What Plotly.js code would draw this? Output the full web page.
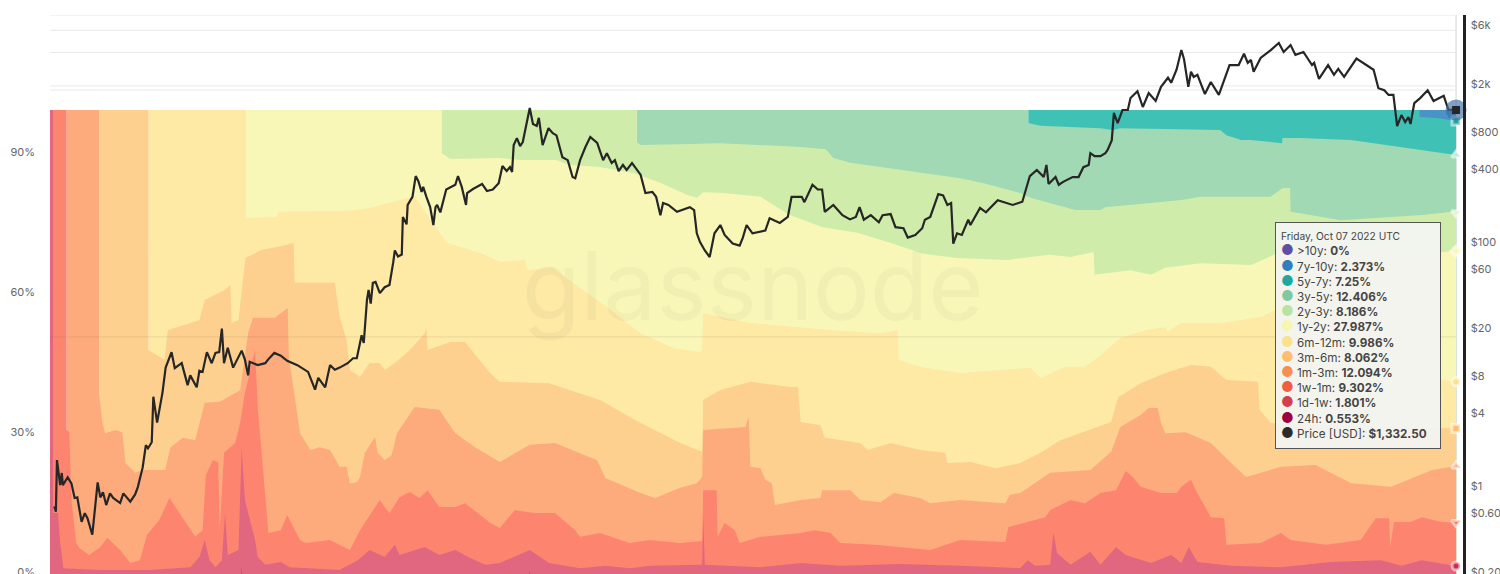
<!DOCTYPE html>
<html>
<head>
<meta charset="utf-8">
<script src="https://cdn.plot.ly/plotly-3.0.1.min.js"></script>
<style>html,body{margin:0;padding:0;background:#fff;width:1500px;height:574px;overflow:hidden}#chart{width:1500px;height:582px}</style>
</head>
<body>
<div id="chart"></div>
<script>
const endDate = '2022-10-07';
const bandNames = ['>10y','7y-10y','5y-7y','3y-5y','2y-3y','1y-2y','6m-12m','3m-6m','1m-3m','1w-1m','1d-1w','24h'];
const bandShares = ['0%','2.373%','7.25%','12.406%','8.186%','27.987%','9.986%','8.062%','12.094%','9.302%','1.801%','0.553%'];
const dotColors = ['#5e4fa2','#2f7fbc','#1fa8a0','#7fc8a4','#b9e3a0','#f6f6b0','#fde08e','#fdbf6f','#f98e52','#ee5f42','#d53e4f','#9e0142'];
const priceLabel = 'Price [USD]';
const priceText = '$1,332.50';
const percentTicks = [0,30,60,90];
const percentLabels = ['0%','30%','60%','90%'];
const priceTicks = [8000,6000,4000,2000,800,400,100,60,20,8,4,1,0.6,0.2];
const priceLabels = ['','$6k','','$2k','$800','$400','$100','$60','$20','$8','$4','$1','$0.60','$0.20'];
const gridLevels = [8000,6000,3950,2100,1940,18.4];

const d7y10y = ['2022-07-30','2022-10-07'];
const v7y10y = [100,100];
const d5y7y = ['2020-07-30','2022-07-30','2022-07-30','2022-09-01','2022-10-07'];
const v5y7y = [100,100,98.5,98.3,97.63];
const d3y5y = ['2018-07-30','2020-07-30','2020-07-30','2020-08-22','2020-12-12','2021-01-04','2021-01-18','2021-06-17','2021-07-24','2021-08-04','2021-09-01','2021-09-19','2021-10-26','2021-11-16','2021-11-17','2021-12-20','2022-03-25','2022-06-27','2022-10-07'];
const v3y5y = [100,100,97.2,96.6,96.1,95.7,96.1,95.9,95.7,94.6,93.6,93.6,93.1,92.9,94.0,94.0,93.6,92.1,90.37];
const d2y3y = ['2017-07-30','2018-07-30','2018-07-30','2018-08-06','2018-11-06','2019-01-01','2019-06-01','2019-07-18','2019-08-01','2019-09-02','2019-12-04','2020-03-25','2020-05-12','2020-07-15','2020-08-03','2020-09-09','2020-10-26','2020-12-12','2020-12-21','2021-03-16','2021-05-12','2021-06-17','2021-09-19','2021-10-26','2021-11-17','2021-12-01','2021-12-02','2021-12-20','2022-03-06','2022-05-20','2022-08-04','2022-09-30','2022-10-07'];
const v2y3y = [100,100,93.1,92.5,92.7,92.9,92.1,91.6,89.7,88.7,87.2,85.4,84.2,82.2,81.2,80.1,78.6,78.6,79.2,80.1,80.7,81.4,81.4,81.4,83.3,83.3,78.2,77.9,76.4,76.9,77.5,78.2,77.97];
const d1y2y = ['2016-07-30','2017-07-30','2017-07-30','2017-08-16','2017-11-16','2017-12-24','2018-03-01','2018-03-27','2018-05-22','2018-07-23','2018-09-12','2018-11-01','2018-11-19','2018-12-01','2019-01-07','2019-03-18','2019-04-18','2019-05-12','2019-07-12','2019-09-15','2019-11-16','2020-01-16','2020-03-19','2020-06-21','2020-09-09','2020-10-17','2020-11-29','2020-12-01','2021-02-06','2021-03-16','2021-04-12','2021-06-17','2021-09-19','2021-11-01','2022-03-25','2022-09-12','2022-10-07'];
const v1y2y = [100,100,90.8,89.5,89.7,89.3,89.3,88.2,87.8,86.5,84.4,81.8,81.2,82.4,82.2,81.4,79.2,77.5,74.9,73.7,71.5,69.2,68.3,67.9,69.0,68.5,69.6,64.7,65.7,64.7,66.2,67.2,66.8,69.0,70.0,69.6,69.78];
const d6m12m = ['2016-01-30','2016-07-30','2016-07-30','2016-08-06','2016-09-26','2016-09-28','2017-02-09','2017-03-18','2017-05-13','2017-06-10','2017-07-13','2017-08-10','2017-10-11','2017-11-16','2018-01-03','2018-01-06','2018-02-23','2018-03-08','2018-06-04','2018-08-06','2018-10-07','2018-11-25','2018-11-29','2018-12-01','2019-02-27','2019-07-25','2019-10-28','2019-11-29','2019-12-01','2020-01-10','2020-03-25','2020-08-03','2020-08-22','2020-10-07','2020-11-13','2020-12-12','2021-01-18','2021-03-06','2021-04-12','2021-04-16','2021-05-12','2021-07-24','2021-10-07','2021-11-04','2022-03-25','2022-06-27','2022-09-12','2022-10-07'];
const v6m12m = [100,100,77.1,76.9,77.1,78.2,78.4,79.0,80.7,81.6,75.8,71.5,69.4,67.5,67.9,65.7,66.4,65.1,57.8,52.2,49.0,48.2,48.6,56.5,54.4,52.9,52.2,52.9,46.5,45.0,43.7,44.8,42.6,45.0,45.0,47.5,51.2,52.9,53.5,52.5,54.4,54.4,55.7,57.2,50.7,45.4,42.2,41.80];
const d3m6m = ['2015-10-30','2016-01-30','2016-01-30','2016-02-29','2016-03-06','2016-05-04','2016-05-14','2016-06-21','2016-07-01','2016-07-03','2016-07-16','2016-07-29','2016-08-27','2016-09-28','2016-10-27','2016-10-29','2017-01-12','2017-01-21','2017-02-03','2017-02-09','2017-02-28','2017-03-18','2017-04-06','2017-04-15','2017-05-04','2017-06-01','2017-06-29','2017-07-02','2017-07-04','2017-08-16','2017-09-12','2017-10-29','2017-11-16','2018-02-16','2018-05-22','2018-08-06','2018-10-19','2018-11-19','2018-11-29','2018-12-01','2019-01-01','2019-02-27','2019-05-12','2019-05-27','2019-06-01','2019-07-08','2019-07-16','2019-09-20','2019-10-04','2019-11-16','2020-01-10','2020-02-26','2020-03-01','2020-04-13','2020-05-30','2020-07-15','2020-08-22','2020-09-28','2020-11-23','2021-01-01','2021-01-14','2021-02-25','2021-04-12','2021-05-30','2021-07-06','2021-08-04','2021-10-02','2021-10-05','2021-10-26','2022-03-25','2022-09-12','2022-10-07'];
const v3m6m = [100,100,48.6,46.5,52.9,55.0,59.3,61.5,62.5,54.4,55.0,68.3,70.0,70.7,71.5,63.0,63.0,55.7,50.7,44.3,42.8,45.8,45.8,44.3,45.8,48.6,52.2,53.5,48.6,50.3,50.3,43.7,41.8,41.5,37.9,33.0,28.7,27.2,26.8,37.9,40.0,41.8,40.7,40.7,33.2,32.5,29.8,28.7,27.2,28.7,27.2,26.6,24.4,24.6,23.3,24.4,26.6,29.3,31.5,33.2,38.5,41.5,43.7,45.4,45.0,42.2,41.8,35.8,33.0,32.5,31.9,31.81];
const d1m3m = ['2015-08-30','2015-10-30','2015-10-30','2015-11-05','2015-11-10','2015-11-29','2015-12-12','2015-12-18','2016-01-05','2016-01-23','2016-03-01','2016-03-11','2016-04-03','2016-04-26','2016-05-14','2016-06-11','2016-07-19','2016-08-03','2016-08-12','2016-09-22','2016-10-16','2016-10-18','2016-10-30','2016-11-08','2016-11-27','2016-12-15','2017-01-03','2017-01-21','2017-02-03','2017-02-09','2017-02-22','2017-02-28','2017-03-09','2017-03-28','2017-04-02','2017-04-15','2017-04-28','2017-05-08','2017-06-10','2017-07-26','2017-08-25','2017-10-01','2017-11-16','2018-01-11','2018-02-27','2018-04-15','2018-05-17','2018-06-01','2018-08-06','2018-09-02','2018-10-19','2018-11-19','2018-11-29','2018-12-01','2019-01-01','2019-02-18','2019-02-24','2019-02-27','2019-03-18','2019-03-27','2019-04-08','2019-04-14','2019-06-01','2019-07-08','2019-07-11','2019-09-02','2019-09-20','2019-10-28','2019-11-22','2020-01-10','2020-01-29','2020-03-25','2020-06-17','2020-06-26','2020-07-15','2020-09-09','2020-11-23','2021-01-01','2021-01-18','2021-02-25','2021-03-12','2021-03-29','2021-04-04','2021-04-12','2021-05-20','2021-07-06','2021-08-13','2021-09-10','2021-11-14','2022-01-18','2022-03-25','2022-06-08','2022-08-23','2022-10-07'];
const v1m3m = [100,100,39.0,33.0,30.8,31.5,31.0,24.4,22.3,22.9,22.9,27.8,29.8,29.3,37.3,37.5,40.0,52.2,55.5,55.5,57.6,47.1,37.9,30.8,27.2,27.8,27.2,23.6,23.6,20.1,20.3,21.4,26.6,30.0,26.6,25.0,26.1,30.8,36.4,35.8,30.8,27.8,24.6,28.3,28.7,26.6,25.0,21.2,18.0,16.9,19.1,20.1,21.4,31.5,31.7,32.1,34.3,23.6,23.3,20.8,20.1,15.4,16.5,16.9,18.6,18.6,16.5,16.0,18.0,16.9,15.8,16.5,15.8,17.6,18.0,22.3,22.9,26.8,32.1,34.7,36.2,36.2,33.0,30.8,31.0,28.7,24.4,21.4,23.6,24.0,20.1,19.3,22.9,23.75];
const d1w1m = ['2015-08-06','2015-08-30','2015-08-30','2015-09-04','2015-09-08','2015-09-17','2015-09-23','2015-10-11','2015-11-01','2015-11-14','2015-12-08','2015-12-27','2016-01-14','2016-01-27','2016-02-19','2016-03-09','2016-03-28','2016-04-26','2016-05-10','2016-05-16','2016-05-29','2016-06-08','2016-06-11','2016-06-19','2016-07-10','2016-07-19','2016-07-28','2016-08-16','2016-08-21','2016-09-01','2016-09-10','2016-10-03','2016-10-15','2016-11-08','2016-11-18','2017-01-03','2017-02-09','2017-02-28','2017-04-06','2017-04-15','2017-04-24','2017-05-13','2017-06-01','2017-06-19','2017-07-04','2017-07-26','2017-08-25','2017-09-12','2017-10-29','2017-11-16','2017-12-14','2018-01-20','2018-02-27','2018-04-06','2018-04-15','2018-05-22','2018-07-17','2018-08-24','2018-10-19','2018-11-29','2018-12-01','2018-12-26','2018-12-28','2019-01-10','2019-01-29','2019-02-07','2019-03-18','2019-06-01','2019-06-27','2019-07-27','2019-08-14','2019-10-19','2019-12-04','2020-01-29','2020-03-25','2020-06-08','2020-06-17','2020-06-23','2020-07-25','2020-08-31','2020-09-09','2020-10-17','2020-11-13','2020-12-12','2021-01-10','2021-01-28','2021-02-10','2021-02-25','2021-04-04','2021-05-03','2021-05-12','2021-05-30','2021-06-08','2021-07-06','2021-07-31','2021-08-04','2021-10-07','2021-11-14','2021-12-02','2022-02-06','2022-04-12','2022-05-10','2022-06-04','2022-06-06','2022-06-13','2022-07-14','2022-08-04','2022-09-10','2022-10-07'];
const v1w1m = [100,100,31.5,31.0,16.5,7.3,6.2,4.7,6.4,8.4,5.8,3.0,3.6,9.0,12.2,16.9,13.7,8.6,10.0,21.8,25.0,24.6,10.0,26.6,28.7,33.0,39.4,48.6,36.4,21.4,9.4,10.0,13.3,7.9,7.3,7.9,5.8,10.0,16.5,15.0,13.7,17.1,18.2,16.9,18.6,15.0,15.0,15.8,11.6,10.5,14.3,13.7,13.7,10.0,8.6,9.4,7.3,7.9,7.3,7.7,18.6,18.6,8.6,11.6,10.0,7.3,8.6,9.4,10.0,9.4,7.3,6.9,6.4,5.8,7.9,7.5,7.5,10.7,11.6,12.8,14.3,16.5,15.8,18.0,18.6,22.7,21.4,19.3,18.0,18.0,19.3,20.8,18.6,12.8,12.6,6.9,7.3,9.4,7.9,6.9,7.9,12.6,12.6,6.4,11.8,11.8,12.8,11.8,11.66];
const d1d1w = ['2015-07-30','2015-08-06','2015-08-06','2015-08-14','2015-08-18','2015-08-24','2015-11-01','2016-02-01','2016-04-17','2016-05-04','2016-05-14','2016-05-23','2016-06-03','2016-06-15','2016-06-21','2016-06-26','2016-07-16','2016-07-22','2016-07-28','2016-08-06','2016-08-16','2016-08-21','2016-09-04','2016-10-03','2016-10-20','2017-01-21','2017-02-24','2017-03-18','2017-04-15','2017-05-04','2017-05-13','2017-06-01','2017-06-29','2017-07-26','2017-08-25','2017-09-21','2017-10-20','2017-11-16','2018-01-11','2018-02-16','2018-04-15','2018-06-01','2018-07-17','2018-08-24','2018-11-29','2018-12-01','2018-12-04','2019-03-18','2019-06-01','2019-08-14','2019-12-04','2020-03-25','2020-07-15','2020-07-29','2020-08-12','2020-09-09','2020-09-15','2020-09-22','2020-10-17','2020-11-23','2020-12-12','2021-01-10','2021-01-28','2021-03-16','2021-04-23','2021-05-12','2021-05-26','2021-06-11','2021-08-13','2021-11-14','2022-02-15','2022-05-20','2022-06-27','2022-08-04','2022-10-07'];
const v1d1w = [100,100,13.7,13.7,7.3,1.9,1.5,1.5,2.1,4.3,7.9,3.6,2.1,3.6,13.7,4.7,5.8,27.8,16.5,12.2,7.9,4.3,2.6,3.2,2.1,1.5,3.6,5.8,4.3,6.9,4.7,5.4,6.4,4.7,5.8,4.1,2.6,3.0,5.8,3.0,1.9,2.4,1.9,2.4,2.6,12.8,2.6,2.1,3.0,2.4,2.8,2.4,1.9,3.6,2.4,2.6,9.6,5.1,2.6,5.4,2.6,6.4,4.7,3.0,4.7,3.0,6.4,3.2,2.4,2.1,3.2,3.6,2.4,3.6,2.354];
const d24h = ['2015-08-01','2016-07-21','2016-07-22','2016-07-23','2018-01-10','2018-01-11','2018-01-12','2022-10-07'];
const v24h = [0.5,0.5,2.2,0.5,0.5,1.3,0.5,0.553];

const priceDates = ['2015-08-07','2015-08-10','2015-08-12','2015-08-18','2015-08-21','2015-08-23','2015-09-01','2015-09-08','2015-09-14','2015-09-19','2015-09-27','2015-10-03','2015-10-08','2015-10-17','2015-10-27','2015-11-01','2015-11-06','2015-11-12','2015-11-19','2015-11-25','2015-12-08','2015-12-14','2015-12-27','2016-01-05','2016-01-10','2016-01-19','2016-01-25','2016-01-29','2016-02-05','2016-02-08','2016-02-15','2016-02-25','2016-03-02','2016-03-13','2016-03-19','2016-04-01','2016-04-12','2016-04-17','2016-04-29','2016-05-04','2016-05-10','2016-05-18','2016-05-27','2016-06-03','2016-06-10','2016-06-15','2016-06-19','2016-06-26','2016-07-06','2016-07-22','2016-07-28','2016-08-03','2016-08-06','2016-08-21','2016-09-04','2016-09-10','2016-09-21','2016-10-03','2016-10-15','2016-11-03','2016-11-23','2016-12-06','2016-12-12','2016-12-25','2017-01-03','2017-01-12','2017-01-21','2017-02-05','2017-02-15','2017-02-22','2017-03-03','2017-03-07','2017-03-13','2017-03-16','2017-03-20','2017-03-24','2017-03-29','2017-04-06','2017-04-15','2017-04-24','2017-05-01','2017-05-04','2017-05-10','2017-05-17','2017-05-19','2017-05-26','2017-05-28','2017-06-06','2017-06-12','2017-06-17','2017-06-23','2017-06-26','2017-07-02','2017-07-09','2017-07-15','2017-07-19','2017-07-22','2017-07-28','2017-08-08','2017-08-19','2017-08-25','2017-08-30','2017-09-06','2017-09-14','2017-09-16','2017-09-27','2017-10-14','2017-10-23','2017-11-03','2017-11-14','2017-11-21','2017-11-29','2017-12-05','2017-12-09','2017-12-12','2017-12-18','2017-12-24','2017-12-29','2018-01-06','2018-01-11','2018-01-17','2018-01-24','2018-01-28','2018-02-04','2018-02-15','2018-02-23','2018-03-02','2018-03-13','2018-03-23','2018-04-01','2018-04-06','2018-04-15','2018-04-25','2018-05-04','2018-05-17','2018-05-28','2018-06-04','2018-06-13','2018-06-19','2018-06-26','2018-07-04','2018-07-11','2018-07-21','2018-07-28','2018-08-06','2018-08-15','2018-08-28','2018-09-04','2018-09-12','2018-09-17','2018-09-27','2018-10-13','2018-11-06','2018-11-14','2018-11-19','2018-11-25','2018-12-04','2018-12-13','2018-12-22','2019-01-02','2019-01-10','2019-01-25','2019-02-07','2019-02-13','2019-02-20','2019-03-03','2019-03-27','2019-04-04','2019-04-23','2019-05-08','2019-05-15','2019-06-03','2019-06-08','2019-06-23','2019-07-03','2019-07-11','2019-07-16','2019-08-01','2019-08-18','2019-09-01','2019-09-12','2019-09-19','2019-09-27','2019-10-10','2019-10-25','2019-11-01','2019-11-16','2019-11-25','2019-12-10','2019-12-18','2020-01-01','2020-01-14','2020-01-19','2020-01-29','2020-02-13','2020-02-22','2020-03-01','2020-03-08','2020-03-12','2020-03-19','2020-03-28','2020-04-09','2020-04-13','2020-05-01','2020-05-12','2020-06-03','2020-07-01','2020-07-19','2020-08-02','2020-08-15','2020-08-28','2020-09-02','2020-09-06','2020-09-19','2020-09-25','2020-10-04','2020-10-21','2020-11-01','2020-11-10','2020-11-20','2020-11-23','2020-12-01','2020-12-12','2020-12-21','2020-12-25','2021-01-02','2021-01-06','2021-01-13','2021-01-22','2021-02-01','2021-02-06','2021-02-19','2021-03-01','2021-03-12','2021-03-25','2021-04-04','2021-04-17','2021-04-23','2021-05-03','2021-05-12','2021-05-17','2021-05-25','2021-05-30','2021-06-04','2021-06-11','2021-06-25','2021-07-06','2021-07-21','2021-08-10','2021-08-27','2021-09-06','2021-09-13','2021-09-19','2021-09-24','2021-10-07','2021-10-26','2021-11-10','2021-11-19','2021-12-02','2021-12-11','2021-12-26','2022-01-11','2022-01-15','2022-01-24','2022-02-10','2022-02-21','2022-03-01','2022-03-12','2022-04-04','2022-05-06','2022-05-15','2022-05-26','2022-06-03','2022-06-12','2022-06-19','2022-06-27','2022-07-04','2022-07-10','2022-07-14','2022-07-21','2022-08-01','2022-08-15','2022-08-26','2022-09-14','2022-09-23','2022-09-29','2022-10-07'];
const priceUSD = [0.75,0.68,1.80,1.12,1.41,1.12,1.30,1.16,0.88,0.89,0.56,0.66,0.60,0.44,1.18,0.89,0.98,0.77,0.96,0.88,0.80,0.96,0.82,0.94,1.08,1.56,2.38,2.25,2.52,5.95,3.65,6.40,10.3,13.8,10.2,11.2,7.4,8.9,7.1,9.7,9.5,13.8,11.2,13.6,13.8,21.5,11.2,15,10.3,14.2,12,8.9,11.5,10.8,11.2,12.1,13.6,12.9,11.7,10.8,9.5,6.8,8.5,7.1,10.8,9.9,10.3,11.2,12.3,12.3,19,16.4,37,44.6,34.5,51,52,42,47,49,75,94,84,87,177,154,222,259,383,348,284,312,259,213,152,213,222,193,297,312,325,383,312,222,278,300,330,289,297,335,463,421,453,413,688,784,675,727,1100,1385,1023,985,1148,688,945,860,825,547,517,376,368,517,662,800,715,517,590,490,517,421,472,430,490,445,393,278,284,259,183,230,222,195,213,201,130,110,94,83,130,152,126,107,103,120,152,130,137,173,158,177,259,259,234,325,297,297,195,222,183,169,177,213,168,183,160,183,187,146,143,120,126,143,168,177,272,266,222,230,107,130,126,168,152,210,193,243,222,236,383,430,376,472,330,376,325,345,376,376,453,472,590,558,558,590,623,750,1260,1040,1332,1332,1668,1900,1410,1835,1580,2060,2450,2230,2850,4130,3470,2060,2740,2490,2590,1800,2260,1770,3110,3110,3850,3240,3430,2740,3560,4130,4720,3980,4540,3770,3980,3110,3240,2400,3110,2590,2900,2490,3520,2850,2010,1935,1770,1770,985,1210,1060,1165,1023,1515,1668,1935,1580,1740,1332,1340,1332.5];

const bands = [
  {d:d7y10y,v:v7y10y,c:'#4a93c6'},
  {d:d5y7y,v:v5y7y,c:'#3fc1b5',sym:'square',mc:'#1fa8a0'},
  {d:d3y5y,v:v3y5y,c:'#a0d9b4',sym:'triangle-up',mc:'#a8dfc0'},
  {d:d2y3y,v:v2y3y,c:'#d0ecaa',sym:'triangle-down',mc:'#d8f0b8'},
  {d:d1y2y,v:v1y2y,c:'#f9f7b8',sym:'diamond',mc:'#f9f7b8'},
  {d:d6m12m,v:v6m12m,c:'#fee9a5',sym:'circle',mc:'#fde08e'},
  {d:d3m6m,v:v3m6m,c:'#fdd08f',sym:'square',mc:'#fdbf6f'},
  {d:d1m3m,v:v1m3m,c:'#fdab7c',sym:'triangle-up',mc:'#f9a070'},
  {d:d1w1m,v:v1w1m,c:'#fd8570',sym:'triangle-down',mc:'#ee6f5a'},
  {d:d1d1w,v:v1d1w,c:'#e0677f',sym:'circle',mc:'#d02c50'},
  {d:d24h,v:v24h,c:'#b9457a'}
];
const traces = bands.map(b => ({
  type:'scatter', mode:'lines', x:b.d, y:b.v, yaxis:'y', fill:'tozeroy',
  fillcolor:b.c, line:{width:0,color:b.c}, hoverinfo:'skip', showlegend:false
}));
traces.push({type:'scatter',mode:'lines',x:priceDates,y:priceUSD,yaxis:'y2',
  line:{color:'#262626',width:2.2},hoverinfo:'skip',showlegend:false});
traces.push({type:'scatter',mode:'markers',cliponaxis:false,yaxis:'y2',x:[endDate],y:[priceUSD[priceUSD.length-1]],
  marker:{symbol:'circle',color:'rgba(60,110,160,0.65)',size:21},hoverinfo:'skip',showlegend:false});
const marked = bands.filter(b => b.sym);
traces.push({type:'scatter',mode:'markers',cliponaxis:false,yaxis:'y',
  x:marked.map(b=>b.d[b.d.length-1]), y:marked.map(b=>b.v[b.v.length-1]),
  marker:{symbol:marked.map(b=>b.sym),color:marked.map(b=>b.mc),size:8,line:{color:'rgba(255,255,255,0.55)',width:3}},
  hoverinfo:'skip',showlegend:false});
traces.push({type:'scatter',mode:'markers',cliponaxis:false,yaxis:'y2',x:[endDate],y:[priceUSD[priceUSD.length-1]],
  marker:{symbol:'square',color:'#262626',size:8},hoverinfo:'skip',showlegend:false});

const esc = s => s.replace('>','&gt;');
const dot = c => `<span style="color:${c};font-size:14px">●</span>`;
let tip = '<span style="font-size:10.2px">Friday, Oct 07 2022 UTC</span><br>';
tip += bandNames.map((n,i)=>`${dot(dotColors[i])} ${esc(n)}: <b>${bandShares[i]}</b>`).join('<br>');
tip += `<br>${dot('#2b2b2b')} ${priceLabel}: <b>${priceText}</b>`;

const shapes = gridLevels.map(g => ({type:'line',xref:'x',yref:'y2',x0:'2015-07-30',x1:endDate,y0:g,y1:g,
  line:{color:g<100?'rgba(130,110,90,0.16)':'#e8e8e8',width:1},layer:g<100?'above':'below'}));
shapes.push({type:'line',xref:'x',yref:'paper',x0:endDate,x1:endDate,y0:0,y1:1,line:{color:'#d4d4d4',width:1},layer:'below'});

const layout = {
  width:1500,height:582,margin:{l:50,r:37,t:15,b:5},
  paper_bgcolor:'#fff',plot_bgcolor:'#fff',showlegend:false,shapes:shapes,
  font:{family:'Inter,sans-serif',color:'#666',size:11},
  xaxis:{type:'date',range:['2015-07-30','2022-10-20'],visible:false},
  yaxis:{range:[0,120.34],tickmode:'array',tickvals:percentTicks,ticktext:percentLabels,showgrid:false,zeroline:false,showline:false,
    ticks:'',ticklabelposition:'outside top',ticklabelstandoff:14,ticklabelshift:3,tickfont:{size:11,color:'#666'}},
  yaxis2:{type:'log',overlaying:'y',side:'right',range:[-0.7033,3.9033],tickmode:'array',tickvals:priceTicks,ticktext:priceLabels,
    showgrid:false,zeroline:false,showline:true,linecolor:'#222',linewidth:2.5,ticks:'',ticklabelposition:'outside top',ticklabelstandoff:3,ticklabelshift:3,tickfont:{size:11,color:'#666'}},
  annotations:[
    {xref:'paper',yref:'paper',x:(753-50)/1413,y:(577-285)/562,xanchor:'center',yanchor:'middle',showarrow:false,text:'glassnode',
      font:{family:'Inter,sans-serif',size:95,weight:400,color:'rgba(110,110,90,0.055)'}},
    {xref:'paper',yref:'paper',x:(1275-50)/1413,y:(577-222)/562,xanchor:'left',yanchor:'top',showarrow:false,text:tip,align:'left',
      width:154,height:215,valign:'middle',bgcolor:'rgba(244,244,240,0.96)',bordercolor:'#555',borderwidth:1,borderpad:5,
      font:{family:'Inter,sans-serif',size:11.7,color:'#444'}}
  ]
};
Plotly.newPlot('chart',traces,layout,{staticPlot:true,displayModeBar:false});
</script>
</body>
</html>
